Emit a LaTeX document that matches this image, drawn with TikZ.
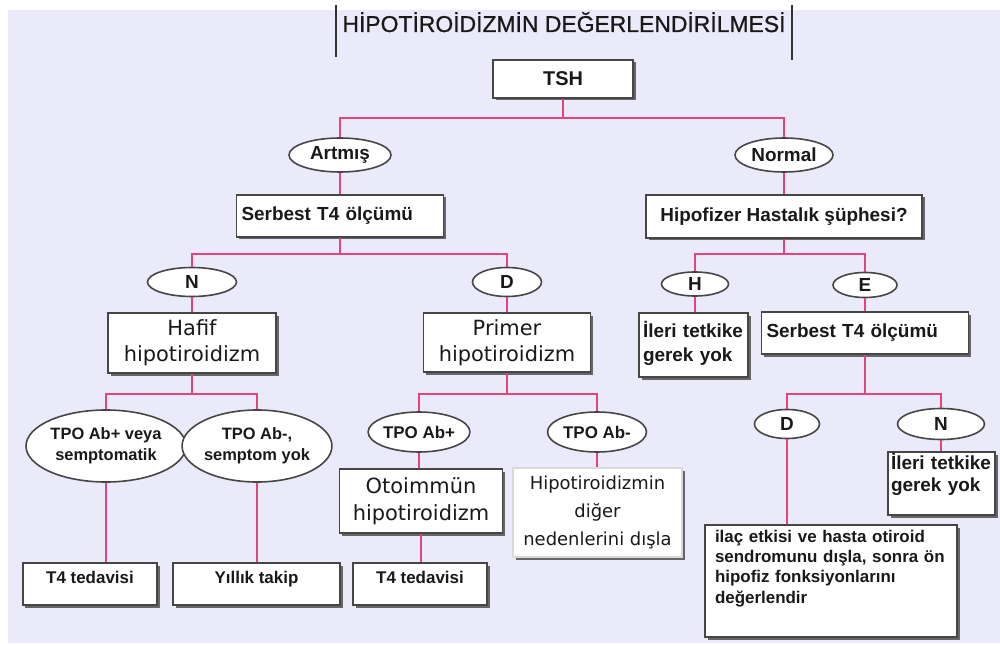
\documentclass[tikz,border=0pt]{standalone}
\usepackage{fontspec}
\setmainfont{Liberation Sans}
\newfontfamily\dejavu{DejaVu Sans}
\newfontfamily\titlefont[FakeBold=0.8]{Liberation Sans}
\usetikzlibrary{shapes.geometric, shadows, positioning}
\definecolor{lila}{RGB}{234,234,250}
\definecolor{pembe}{RGB}{226,68,124}
\definecolor{kenar}{RGB}{70,70,70}

\begin{document}
\begin{tikzpicture}[x=1bp, y=-1bp,
    box/.style={rectangle, draw=kenar, line width=1.6bp, fill=white, inner sep=3bp,
      text=black!90,
      drop shadow={shadow xshift=2.5bp, shadow yshift=-2.5bp, fill=black!60, opacity=1}},
    oval/.style={ellipse, draw=kenar, line width=1.6bp, fill=white, inner sep=0pt, text=black!90},
    link/.style={draw=pembe, line width=2.6bp},
    lbl/.style={font=\fontsize{19}{23}\selectfont\bfseries},
    lblsm/.style={font=\fontsize{17}{21}\selectfont\bfseries},
    lblbig/.style={font=\dejavu\fontsize{21}{26}\selectfont}]
      \useasboundingbox (0,0) rectangle (1000,646);
      \fill[lila] (8,10) rectangle (1000,643);

      \node[anchor=base, inner xsep=6bp, text=black!90, font=\titlefont\fontsize{23}{26}\selectfont] (title) at (564,32) {HİPOTİROİDİZMİN DEĞERLENDİRİLMESİ};
      \draw[black!80, line width=1.6bp] ([yshift=27bp]title.base west) -- ([yshift=-25bp]title.base west);
      \draw[black!80, line width=1.6bp] ([yshift=27bp]title.base east) -- ([yshift=-28bp]title.base east);

      \node[box, lbl, font=\fontsize{20}{24}\selectfont\bfseries, minimum width=140bp, minimum height=38bp] (tsh) at (563,79) {TSH};
      \node[oval, lbl, minimum width=102bp, minimum height=34bp] (artmis) at (340,155) {Artmış};
      \node[oval, lbl, minimum width=98bp, minimum height=34bp] (normal) at (784,155) {Normal};
      \node[box, lbl, text width=197bp, inner xsep=5bp, align=left, minimum height=42bp] (serbesta) at (340,216) {Serbest T4 ölçümü};
      \node[box, lbl, minimum width=276bp, minimum height=43bp] (hipofizer) at (784,216.5) {Hipofizer Hastalık şüphesi?};
      \coordinate (j1) at (563,118);
      \coordinate (j2) at (340,254);
      \coordinate (j3) at (784,254);

      \node[oval, lbl, minimum width=89bp, minimum height=29bp] (na) at (192,282) {N};
      \node[oval, lbl, minimum width=69bp, minimum height=29bp] (da) at (507,282) {D};
      \node[box, lblbig, align=center, minimum width=168bp, minimum height=60bp] (hafif) at (192,343) {Hafif\\hipotiroidizm};
      \node[box, lblbig, align=center, minimum width=167bp, minimum height=59bp] (primer) at (507,342.5) {Primer\\hipotiroidizm};
      \coordinate (j4) at (192,394);
      \coordinate (j5) at (507,394);

      \node[oval, font=\fontsize{16.5}{21}\selectfont\bfseries, align=center, minimum width=160bp, minimum height=72bp] (tpoa) at (106,446) {TPO Ab+ veya\\semptomatik};
      \node[oval, font=\fontsize{16.5}{21}\selectfont\bfseries, align=center, minimum width=133bp, minimum height=72bp] (tpob) at (257,446) {TPO Ab-,\\semptom yok};
      \node[oval, lblsm, minimum width=97bp, minimum height=40bp] (tpop) at (419,432) {TPO Ab+};
      \node[oval, lblsm, minimum width=99bp, minimum height=40bp] (tpom) at (597,432) {TPO Ab-};
      \node[box, lblbig, font=\dejavu\fontsize{21}{27}\selectfont, align=center, minimum width=163bp, minimum height=64bp] (otoimmun) at (421,501) {Otoimmün\\hipotiroidizm};
      \node[box, draw=black!15, font=\dejavu\fontsize{18}{28.5}\selectfont, align=center, minimum width=169bp, minimum height=89bp] (diger) at (597.5,512.5) {Hipotiroidizmin\\diğer\\nedenlerini dışla};

      \node[box, lblsm, minimum width=134bp, text height=17bp, text depth=19bp] (tedavia) at (90,584) {T4 tedavisi};
      \node[box, lblsm, minimum width=167bp, text height=17bp, text depth=19bp] (takip) at (256.5,584) {Yıllık takip};
      \node[box, lblsm, minimum width=134bp, text height=17bp, text depth=19bp] (tedavib) at (420,584) {T4 tedavisi};

      \node[oval, lbl, minimum width=67bp, minimum height=24bp] (ha) at (695,284) {H};
      \node[oval, lbl, minimum width=64bp, minimum height=25bp] (ea) at (865,285) {E};
      \node[box, lbl, font=\fontsize{19}{25}\selectfont\bfseries, text width=101bp, inner xsep=4bp, align=left, text height=21bp, text depth=37bp] (ileria) at (693.5,345) {İleri tetkike\\gerek yok};
      \node[box, lbl, text width=197bp, inner xsep=5bp, align=left, minimum height=42bp] (serbestb) at (865,333) {Serbest T4 ölçümü};
      \coordinate (j6) at (865,394);

      \node[oval, lbl, minimum width=65bp, minimum height=29bp] (db) at (787,424) {D};
      \node[oval, lbl, minimum width=87bp, minimum height=31bp] (nb) at (941,424) {N};
      \node[box, lbl, font=\fontsize{19}{23}\selectfont\bfseries, text width=101bp, inner xsep=3bp, align=left, text height=14bp, text depth=43bp] (ilerib) at (941.5,483.5) {İleri tetkike\\gerek yok};
      \node[box, font=\fontsize{17}{20.5}\selectfont\bfseries, text width=232bp, inner xsep=10bp, align=left, text height=14bp, text depth=92bp] (ilac) at (831,581) {ilaç etkisi ve hasta otiroid\\sendromunu dışla, sonra ön\\hipofiz fonksiyonlarını\\değerlendir};

      \draw[link] (tsh.south) -- (j1);
      \draw[link] (artmis.north) |- (j1) -| (normal.north);
      \draw[link] (artmis.south) -- (serbesta.north);
      \draw[link] (normal.south) -- (hipofizer.north);
      \draw[link] (serbesta.south) -- (j2);
      \draw[link] (hipofizer.south) -- (j3);
      \draw[link] (na.north) |- (j2) -| (da.north);
      \draw[link] (ha.north) |- (j3) -| (ea.north);
      \draw[link] (na.south) -- (hafif.north);
      \draw[link] (da.south) -- (primer.north);
      \draw[link] (hafif.south) -- (j4);
      \draw[link] (primer.south) -- (j5);
      \draw[link] (tpoa.north) |- (j4) -| (tpob.north);
      \draw[link] (tpop.north) |- (j5) -| (tpom.north);
      \draw[link] (tpoa.south) -- (tpoa.south |- tedavia.north);
      \draw[link] (tpob.south) -- (tpob.south |- takip.north);
      \draw[link] (tpop.south) -- (tpop.south |- otoimmun.north);
      \draw[link] (tpom.south) -- (tpom.south |- diger.north);
      \draw[link] (otoimmun.south) -- (otoimmun.south |- tedavib.north);
      \draw[link] (ha.south) -- (ha.south |- ileria.north);
      \draw[link] (ea.south) -- (serbestb.north);
      \draw[link] (serbestb.south) -- (j6);
      \draw[link] (db.north) |- (j6) -| (nb.north);
      \draw[link] (db.south) -- (db.south |- ilac.north);
      \draw[link] (nb.south) -- (nb.south |- ilerib.north);
    \end{tikzpicture}
\end{document}
